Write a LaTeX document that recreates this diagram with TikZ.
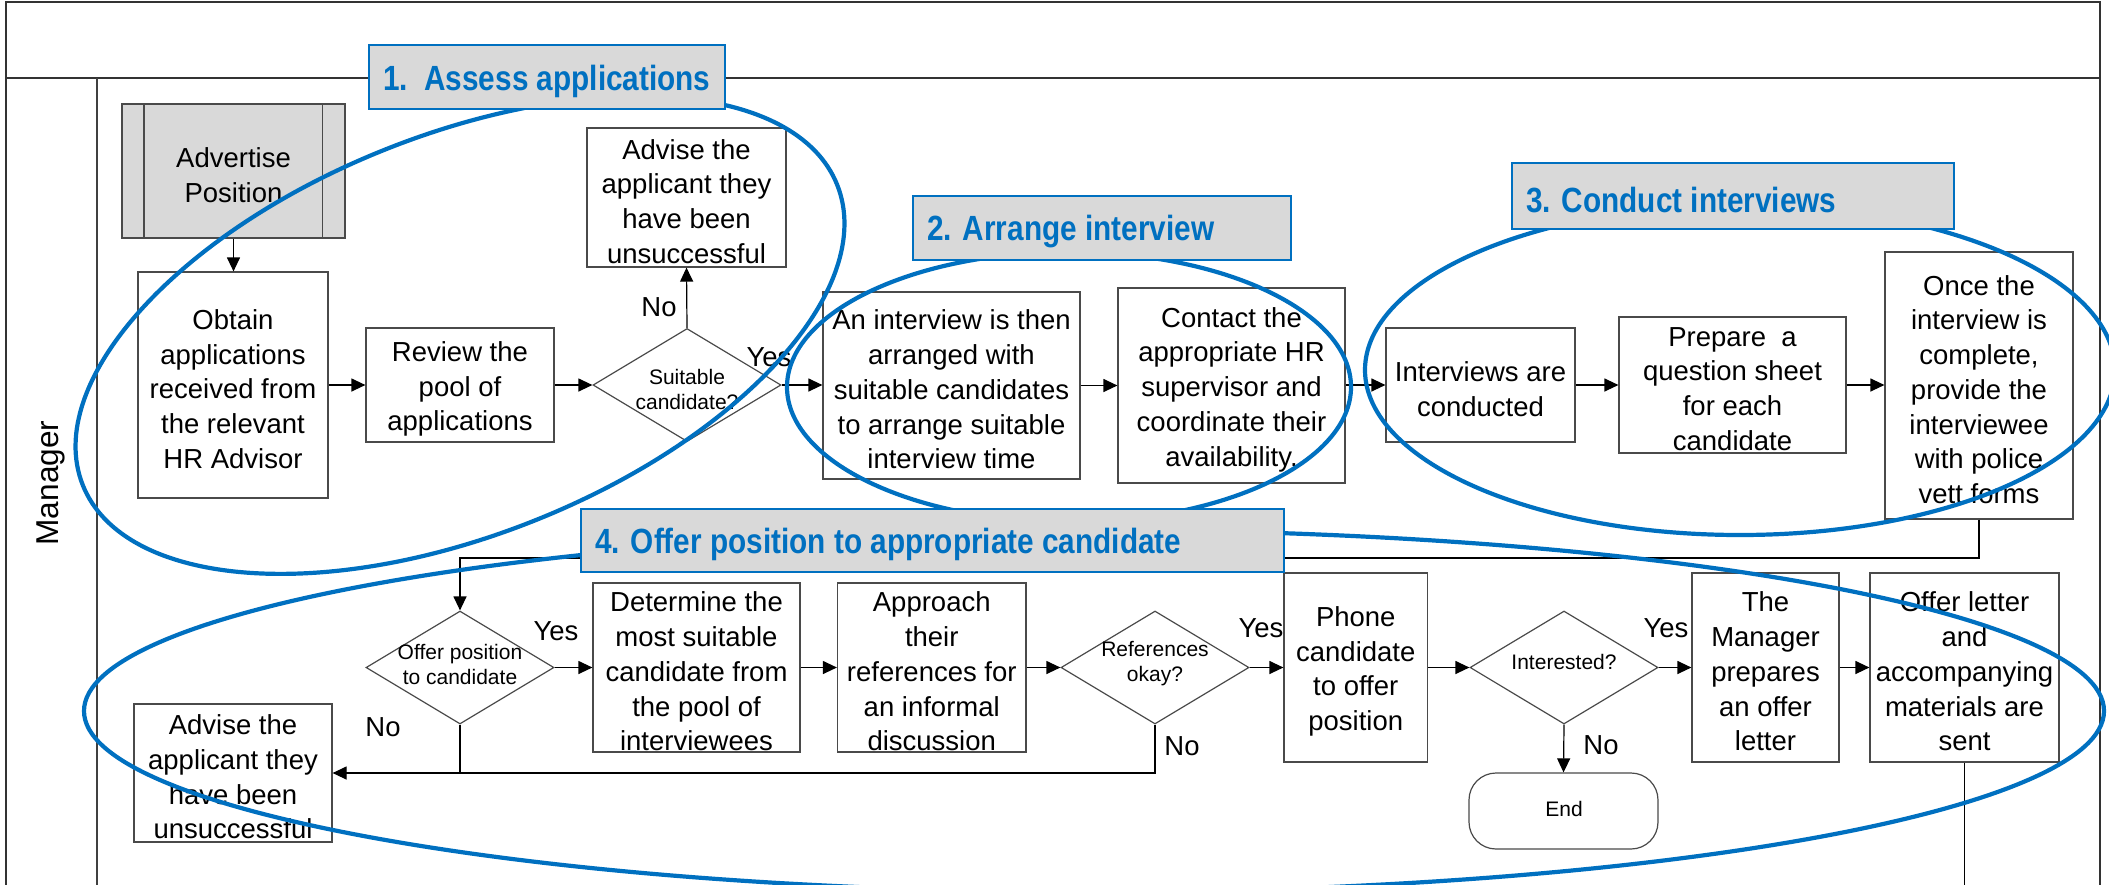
\documentclass[tikz,border=0pt]{standalone}
\usepackage{fontspec}
\setmainfont{Liberation Sans}
\newfontfamily\phasefamily[FakeStretch=0.85]{Liberation Sans Bold}
\usetikzlibrary{shapes.geometric,arrows.meta,fit}
\definecolor{procblue}{HTML}{0070C0}
\definecolor{boxgray}{HTML}{D9D9D9}
\definecolor{edgegray}{HTML}{4A4A4A}
\newcommand{\procfont}{\fontsize{13.75pt}{17.35pt}\selectfont}
\newcommand{\diafont}{\fontsize{10.5pt}{12.5pt}\selectfont}
\newcommand{\headfont}{\phasefamily\fontsize{17.5pt}{20pt}\selectfont}
\newcommand{\lanelabelfont}{\fontsize{15.8pt}{18pt}\selectfont}
\tikzset{
  procbox/.style={draw=edgegray, line width=0.6pt, fill=white, inner sep=0pt},
  predef/.style={procbox, fill=boxgray},
  ptext/.style={align=center, font=\procfont, inner sep=0pt, yshift=-2pt},
  decision/.style={draw=edgegray, line width=0.6pt, fill=white, shape=diamond, inner sep=0pt, minimum width=94pt, minimum height=56.5pt},
  dtext/.style={align=center, font=\diafont, inner sep=0pt},
  term/.style={procbox, rounded corners=13.5pt},
  flow/.style={draw=black, line width=0.6pt},
  arr/.style={flow, -{Triangle[length=7pt,width=6.5pt]}},
  lbl/.style={font=\procfont, inner sep=0pt},
  group/.style={draw=procblue, line width=2.1pt},
  phase/.style={draw=procblue, line width=1.35pt, fill=boxgray, inner sep=0pt},
  phasetext/.style={text=procblue, font=\headfont, inner sep=0pt, anchor=west, xshift=7.5pt, yshift=-2pt},
  frame/.style={draw=black!80, line width=1pt},
  lane/.style={draw=black!75, line width=0.6pt},
}
% \procnode[style]{name}{corner1}{corner2}{text}
\newcommand{\procnode}[5][procbox]{%
  \node[#1, fit={#3 #4}] (#2) {};
  \node[ptext] (#2-t) at (#2.center) {#5};}
\begin{document}
\begin{tikzpicture}[x=0.5pt, y=-0.5pt]
\useasboundingbox (0,0) rectangle (2109,884);
\clip (0,0) rectangle (2109,884);

% frame and lane
\draw[frame] (6,900) -- (6,2) -- (2100,2) -- (2100,900);
\draw[frame] (6,78) -- (2100,78);
\draw[lane] (97,78) -- (97,900);
\node[font=\lanelabelfont, rotate=90, inner sep=0pt] (lanename) at (51,483) {Manager};

% row 1
\procnode[predef]{adv}{(122,104)}{(345,238)}{Advertise\\Position}
\draw[lane, draw=edgegray] (144,104) -- (144,238) (322.5,104) -- (322.5,238);
\procnode{obtain}{(138,272)}{(328,498)}{Obtain\\applications\\received from\\the relevant\\HR Advisor}
\procnode{review}{(366,328)}{(554,442)}{Review the\\pool of\\applications}
\node[decision] (d1) at (687,385) {};
\node[dtext] (d1t) at (687,389) {Suitable\\candidate?};
\procnode{advise1}{(587,128)}{(786,267)}{Advise the\\applicant they\\have been\\unsuccessful}
\procnode{interview}{(823,292)}{(1080,479)}{An interview is then\\arranged with\\suitable candidates\\to arrange suitable\\interview time}
\procnode{contact}{(1118,288)}{(1345,483)}{Contact the\\appropriate HR\\supervisor and\\coordinate their\\availability.}
\procnode{conducted}{(1386,328)}{(1575,442)}{Interviews are\\conducted}
\procnode{prepare}{(1619,317)}{(1846,453)}{Prepare\ \ a\\question sheet\\for each\\candidate}
\procnode{once}{(1885,252)}{(2073,519)}{Once the\\interview is\\complete,\\provide the\\interviewee\\with police\\vett forms}

% row 2
\node[decision] (d2) at (460,667.5) {};
\node[dtext] (d2t) at (460,664) {Offer position\\to candidate};
\procnode{determine}{(593,583)}{(800,752)}{Determine the\\most suitable\\candidate from\\the pool of\\interviewees}
\procnode{approach}{(837.5,583)}{(1026,752)}{Approach\\their\\references for\\an informal\\discussion}
\node[decision] (d3) at (1155,667.5) {};
\node[dtext] (d3t) at (1155,664) {References\\okay?};
\procnode{phone}{(1284,573)}{(1427.5,762)}{Phone\\candidate\\to offer\\position}
\node[decision] (d4) at (1564,667.5) {};
\node[dtext] (d4t) at (1564,662) {Interested?};
\node[term, fit={(1469,773) (1658,849)}] (endn) {};
\node[dtext] (endn-t) at (1564,809) {End};
\procnode{manager}{(1692,573)}{(1839,762)}{The\\Manager\\prepares\\an offer\\letter}
\procnode{offerl}{(1870,573)}{(2059,762)}{Offer letter\\and\\accompanying\\materials are\\sent}
\procnode{advise2}{(134,704)}{(332,842)}{Advise the\\applicant they\\have been\\unsuccessful}

% connectors row 1
\draw[arr] (adv.south) -- (adv.south |- obtain.north);
\draw[arr] (obtain.east |- review.west) -- (review.west);
\draw[arr] (review.east) -- (d1.west);
\draw[arr] (d1.north) -- (advise1.south);
\draw[arr] (d1.east) -- (d1.east -| interview.west);
\draw[arr] (interview.east |- contact.west) -- (contact.west);
\draw[arr] (contact.east |- conducted.west) -- (conducted.west);
\draw[arr] (conducted.east) -- (conducted.east -| prepare.west);
\draw[arr] (prepare.east) -- (prepare.east -| once.west);
\coordinate (bend) at (1979,558);
\draw[arr] (once.south) -- (once.south |- bend) -| (d2.north);

% connectors row 2
\draw[arr] (d2.east) -- (d2.east -| determine.west);
\draw[arr] (determine.east) -- (approach.west);
\draw[arr] (approach.east) -- (d3.west);
\draw[arr] (d3.east) -- (d3.east -| phone.west);
\draw[arr] (phone.east |- d4.west) -- (d4.west);
\draw[arr] (d4.east) -- (d4.east -| manager.west);
\draw[arr] (manager.east) -- (offerl.west);
\draw[arr] (d4.south) -- (endn.north);
\draw[flow] (d2.south) -- (d2.south |- advise2.east);
\draw[arr] (d3.south) |- (advise2.east);
\coordinate (offend) at (1964.5,900);
\draw[flow] (offerl.south -| offend) -- (offend);

% labels
\node[lbl] (no1) at (659,307) {No};
\node[lbl] (yes1) at (769,357) {Yes};
\node[lbl] (yes2) at (556,631) {Yes};
\node[lbl] (no2) at (383,727) {No};
\node[lbl] (yes3) at (1261,628) {Yes};
\node[lbl] (no3) at (1182,746) {No};
\node[lbl] (yes4) at (1666,628) {Yes};
\node[lbl] (no4) at (1601,745) {No};

% group ellipses
\draw[group, rotate around={21.7:(460,335)}] (460,335) ellipse [x radius=203pt, y radius=100pt];
\draw[group] (1069,387) ellipse [x radius=141pt, y radius=67.5pt];
\draw[group] (1740,370) ellipse [x radius=187.5pt, y radius=82.5pt];
\draw[group] (1094,711) ellipse [x radius=505pt, y radius=90.5pt];

% phase titles
\node[phase, fit={(369,45) (725,109)}] (t1) {};
\node[phasetext] (t1-t) at (t1.west) {1.\ \ Assess applications};
\node[phase, fit={(913,196) (1291,260)}] (t2) {};
\node[phasetext] (t2-t) at (t2.west) {2. Arrange interview};
\node[phase, fit={(1512,163) (1954,229)}] (t3) {};
\node[phasetext] (t3-t) at (t3.west) {3. Conduct interviews};
\node[phase, fit={(581,509) (1284,572)}] (t4) {};
\node[phasetext] (t4-t) at (t4.west) {4. Offer position to appropriate candidate};
\end{tikzpicture}
\end{document}
